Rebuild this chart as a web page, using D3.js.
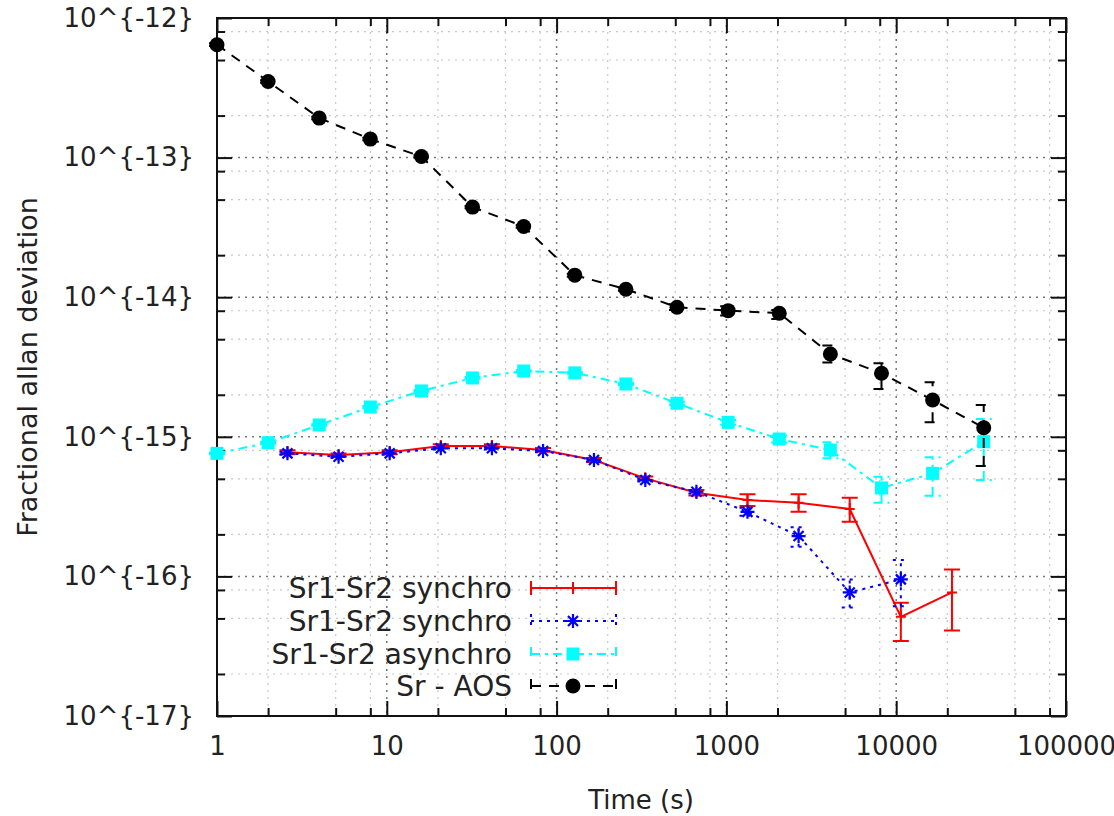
<!DOCTYPE html>
<html>
<head>
<meta charset="utf-8">
<script src="https://cdn.jsdelivr.net/npm/d3@7"></script>
<style>
  body { margin: 0; background: #fff; }
  text { font-family: "DejaVu Sans", sans-serif; fill: #222; }
</style>
</head>
<body>
<svg id="chart" width="1114" height="816"></svg>
<script>
// tick labels (gnuplot printed them literally)
const xMajor = [1, 10, 100, 1000, 10000, 100000]
const xTickLabels = ["1", "10", "100", "1000", "10000", "100000"]
const yMajor = [1e-17, 1e-16, 1e-15, 1e-14, 1e-13, 1e-12]
const yTickLabels = ["10^{-17}", "10^{-16}", "10^{-15}", "10^{-14}", "10^{-13}", "10^{-12}"]
const minorMultipliers = [2, 5, 8]

// Sr1-Sr2 synchro (red)
const tauSync = [2.6, 5.2, 10.4, 20.8, 41.6, 83.2, 166, 333, 666, 1331, 2662, 5325, 10650, 21299]
const sync1Val = [7.74e-16, 7.40e-16, 7.74e-16, 8.59e-16, 8.59e-16, 8.04e-16, 6.82e-16, 5.04e-16, 3.97e-16, 3.52e-16, 3.37e-16, 3.04e-16, 5.13e-17, 7.68e-17]
const sync1Low = [7.5e-16, 7.2e-16, 7.5e-16, 8.35e-16, 8.35e-16, 7.8e-16, 6.6e-16, 4.88e-16, 3.8e-16, 3.19e-16, 2.90e-16, 2.46e-16, 3.44e-17, 4.10e-17]
const sync1High = [8.0e-16, 7.6e-16, 8.0e-16, 8.85e-16, 8.85e-16, 8.3e-16, 7.05e-16, 5.2e-16, 4.15e-16, 3.87e-16, 3.87e-16, 3.66e-16, 6.47e-17, 1.122e-16]

// Sr1-Sr2 synchro (blue, second set)
const tauSync2 = [2.6, 5.2, 10.4, 20.8, 41.6, 83.2, 166, 333, 666, 1331, 2662, 5325, 10650]
const sync2Val = [7.61e-16, 7.20e-16, 7.61e-16, 8.27e-16, 8.27e-16, 7.91e-16, 6.82e-16, 4.90e-16, 4.04e-16, 2.90e-16, 1.945e-16, 7.68e-17, 9.52e-17]
const sync2Low = [7.45e-16, 7.05e-16, 7.45e-16, 8.1e-16, 8.1e-16, 7.75e-16, 6.65e-16, 4.78e-16, 3.92e-16, 2.72e-16, 1.63e-16, 5.99e-17, 6.12e-17]
const sync2High = [7.8e-16, 7.35e-16, 7.8e-16, 8.45e-16, 8.45e-16, 8.1e-16, 7.0e-16, 5.02e-16, 4.16e-16, 3.1e-16, 2.25e-16, 9.52e-17, 1.31e-16]

// Sr1-Sr2 asynchro (cyan)
const tauAsync = [1, 2, 4, 8, 16, 32, 64, 128, 256, 512, 1024, 2048, 4096, 8192, 16384, 32768]
const asyncVal = [7.61e-16, 9.07e-16, 1.215e-15, 1.635e-15, 2.13e-15, 2.64e-15, 2.96e-15, 2.87e-15, 2.39e-15, 1.739e-15, 1.27e-15, 9.64e-16, 8.04e-16, 4.30e-16, 5.47e-16, 9.22e-16]
const asyncLow = [7.5e-16, 8.95e-16, 1.2e-15, 1.61e-15, 2.1e-15, 2.6e-15, 2.92e-15, 2.83e-15, 2.35e-15, 1.70e-15, 1.22e-15, 9.1e-16, 7.01e-16, 3.37e-16, 3.78e-16, 4.90e-16]
const asyncHigh = [7.72e-16, 9.2e-16, 1.23e-15, 1.66e-15, 2.16e-15, 2.68e-15, 3.0e-15, 2.91e-15, 2.43e-15, 1.78e-15, 1.32e-15, 1.02e-15, 9.13e-16, 5.18e-16, 7.13e-16, 1.341e-15]

// Sr - AOS (black)
const tauAos = [1, 2, 4, 8, 16, 32, 64, 128, 256, 512, 1024, 2048, 4096, 8192, 16384, 32768]
const aosVal = [6.44e-13, 3.51e-13, 1.919e-13, 1.357e-13, 1.018e-13, 4.42e-14, 3.21e-14, 1.438e-14, 1.141e-14, 8.48e-15, 8.01e-15, 7.68e-15, 3.92e-15, 2.85e-15, 1.835e-15, 1.162e-15]
const aosLow = [6.3e-13, 3.44e-13, 1.88e-13, 1.33e-13, 1.0e-13, 4.33e-14, 3.14e-14, 1.40e-14, 1.11e-14, 8.1e-15, 7.38e-15, 6.99e-15, 3.40e-15, 2.20e-15, 1.27e-15, 6.18e-16]
const aosHigh = [6.6e-13, 3.58e-13, 1.96e-13, 1.385e-13, 1.04e-13, 4.51e-14, 3.28e-14, 1.47e-14, 1.17e-14, 8.9e-15, 8.6e-15, 8.11e-15, 4.50e-15, 3.37e-15, 2.46e-15, 1.69e-15]

const legendLabels = ["Sr1-Sr2 synchro", "Sr1-Sr2 synchro", "Sr1-Sr2 asynchro", "Sr - AOS"]

const svg = d3.select("#chart")
svg.append("rect").attr("width", 1114).attr("height", 816).attr("fill", "#fff")

const pLeft = 217, pRight = 1066, pTop = 18, pBottom = 716
const x = d3.scaleLog().domain([1, 1e5]).range([pLeft, pRight])
const y = d3.scaleLog().domain([1e-17, 1e-12]).range([pBottom, pTop])

let xMinor = [], yMinor = []
xMajor.slice(0, -1).forEach(d => minorMultipliers.forEach(m => xMinor.push(d * m)))
yMajor.slice(0, -1).forEach(d => minorMultipliers.forEach(m => yMinor.push(d * m)))

// grid
let grid = svg.append("g")
grid.selectAll(".gxm").data(xMinor).enter().append("line")
  .attr("x1", d => x(d)).attr("x2", d => x(d)).attr("y1", pTop).attr("y2", pBottom)
  .attr("stroke", "#c8c8c8").attr("stroke-width", 1.2).attr("stroke-dasharray", "2,5")
grid.selectAll(".gym").data(yMinor).enter().append("line")
  .attr("y1", d => y(d)).attr("y2", d => y(d)).attr("x1", pLeft).attr("x2", pRight)
  .attr("stroke", "#c8c8c8").attr("stroke-width", 1.2).attr("stroke-dasharray", "2,5")
grid.selectAll(".gx").data(xMajor.slice(1, -1)).enter().append("line")
  .attr("x1", d => x(d)).attr("x2", d => x(d)).attr("y1", pTop).attr("y2", pBottom)
  .attr("stroke", "#777").attr("stroke-width", 1.5).attr("stroke-dasharray", "2,5")
grid.selectAll(".gy").data(yMajor.slice(1, -1)).enter().append("line")
  .attr("y1", d => y(d)).attr("y2", d => y(d)).attr("x1", pLeft).attr("x2", pRight)
  .attr("stroke", "#777").attr("stroke-width", 1.5).attr("stroke-dasharray", "2,5")

// axes (ticks inward, mirrored)
function styleAxis(g) {
  g.select(".domain").remove()
  g.selectAll(".tick line").attr("stroke", "#111").attr("stroke-width", 2)
  g.selectAll(".tick text").style("font-size", "26px").attr("fill", "#222")
}
svg.append("g").attr("transform", `translate(0,${pBottom})`)
  .call(d3.axisBottom(x).tickValues(xMajor).tickSize(-15).tickPadding(21)
    .tickFormat((d, i) => xTickLabels[i])).call(styleAxis)
svg.append("g").attr("transform", `translate(0,${pBottom})`)
  .call(d3.axisBottom(x).tickValues(xMinor).tickSize(-8).tickFormat("")).call(styleAxis)
svg.append("g").attr("transform", `translate(0,${pTop})`)
  .call(d3.axisTop(x).tickValues(xMajor).tickSize(-15).tickFormat("")).call(styleAxis)
svg.append("g").attr("transform", `translate(0,${pTop})`)
  .call(d3.axisTop(x).tickValues(xMinor).tickSize(-8).tickFormat("")).call(styleAxis)
svg.append("g").attr("transform", `translate(${pLeft},0)`)
  .call(d3.axisLeft(y).tickValues(yMajor).tickSize(-15).tickPadding(23)
    .tickFormat((d, i) => yTickLabels[i])).call(styleAxis)
svg.append("g").attr("transform", `translate(${pLeft},0)`)
  .call(d3.axisLeft(y).tickValues(yMinor).tickSize(-8).tickFormat("")).call(styleAxis)
svg.append("g").attr("transform", `translate(${pRight},0)`)
  .call(d3.axisRight(y).tickValues(yMajor).tickSize(-15).tickFormat("")).call(styleAxis)
svg.append("g").attr("transform", `translate(${pRight},0)`)
  .call(d3.axisRight(y).tickValues(yMinor).tickSize(-8).tickFormat("")).call(styleAxis)

svg.append("rect").attr("x", pLeft).attr("y", pTop).attr("width", pRight - pLeft).attr("height", pBottom - pTop)
  .attr("fill", "none").attr("stroke", "#111").attr("stroke-width", 2)

// axis titles
svg.append("text").attr("x", 641).attr("y", 809).attr("text-anchor", "middle")
  .style("font-size", "26px").text("Time (s)")
svg.append("text").attr("transform", "translate(37,367) rotate(-90)").attr("text-anchor", "middle")
  .style("font-size", "27px").text("Fractional allan deviation")

// marker shapes
function marker(g, type, color) {
  if (type === "plus") {
    g.append("path").attr("d", "M-5,0H5M0,-6V6").attr("stroke", color).attr("stroke-width", 2).attr("fill", "none")
  } else if (type === "star") {
    g.append("path").attr("d", "M-7,0H7M0,-7V7M-5,-5L5,5M-5,5L5,-5").attr("stroke", color).attr("stroke-width", 2.2).attr("fill", "none")
  } else if (type === "square") {
    g.append("rect").attr("x", -6.5).attr("y", -6.5).attr("width", 13).attr("height", 13).attr("fill", color)
  } else if (type === "circle") {
    g.append("circle").attr("r", 7.5).attr("fill", color)
  }
}

const series = [
  {tau: tauSync, val: sync1Val, lo: sync1Low, hi: sync1High, color: "#ff0000", dash: null, mk: "plus"},
  {tau: tauSync2, val: sync2Val, lo: sync2Low, hi: sync2High, color: "#0000ff", dash: "3,5", mk: "star"},
  {tau: tauAsync, val: asyncVal, lo: asyncLow, hi: asyncHigh, color: "#00ffff", dash: "9,5,3,5", mk: "square"},
  {tau: tauAos, val: aosVal, lo: aosLow, hi: aosHigh, color: "#000000", dash: "10,8", mk: "circle"}
]

const line = d3.line().x(d => x(d[0])).y(d => y(d[1]))

series.forEach(s => {
  let g = svg.append("g")
  let pts = s.tau.map((t, i) => [t, s.val[i], s.lo[i], s.hi[i]])
  g.append("path").datum(pts).attr("d", line).attr("fill", "none")
    .attr("stroke", s.color).attr("stroke-width", 2).attr("stroke-dasharray", s.dash)
  // error bars
  g.selectAll(".eb").data(pts).enter().append("path")
    .attr("d", d => {
      let cx = x(d[0]), y0 = y(d[2]), y1 = y(d[3])
      return `M${cx},${y0}V${y1}M${cx - 8},${y0}H${cx + 8}M${cx - 8},${y1}H${cx + 8}`
    })
    .attr("fill", "none").attr("stroke", s.color).attr("stroke-width", 2)
    .attr("stroke-dasharray", s.dash)
  pts.forEach(d => {
    let m = g.append("g").attr("transform", `translate(${x(d[0])},${y(d[1])})`)
    marker(m, s.mk, s.color)
  })
})

// legend
const legRows = [588, 621, 654, 686]
series.forEach((s, i) => {
  let ly = legRows[i]
  svg.append("text").attr("x", 512).attr("y", ly).attr("dy", "0.36em").attr("text-anchor", "end")
    .style("font-size", "28px").text(legendLabels[i])
  svg.append("path").attr("d", `M531,${ly}H616M531,${ly - 7}V${ly + 7}M616,${ly - 7}V${ly + 7}`)
    .attr("fill", "none").attr("stroke", s.color).attr("stroke-width", 2).attr("stroke-dasharray", s.dash)
  let m = svg.append("g").attr("transform", `translate(573,${ly})`)
  marker(m, s.mk, s.color)
})
</script>
</body>
</html>
